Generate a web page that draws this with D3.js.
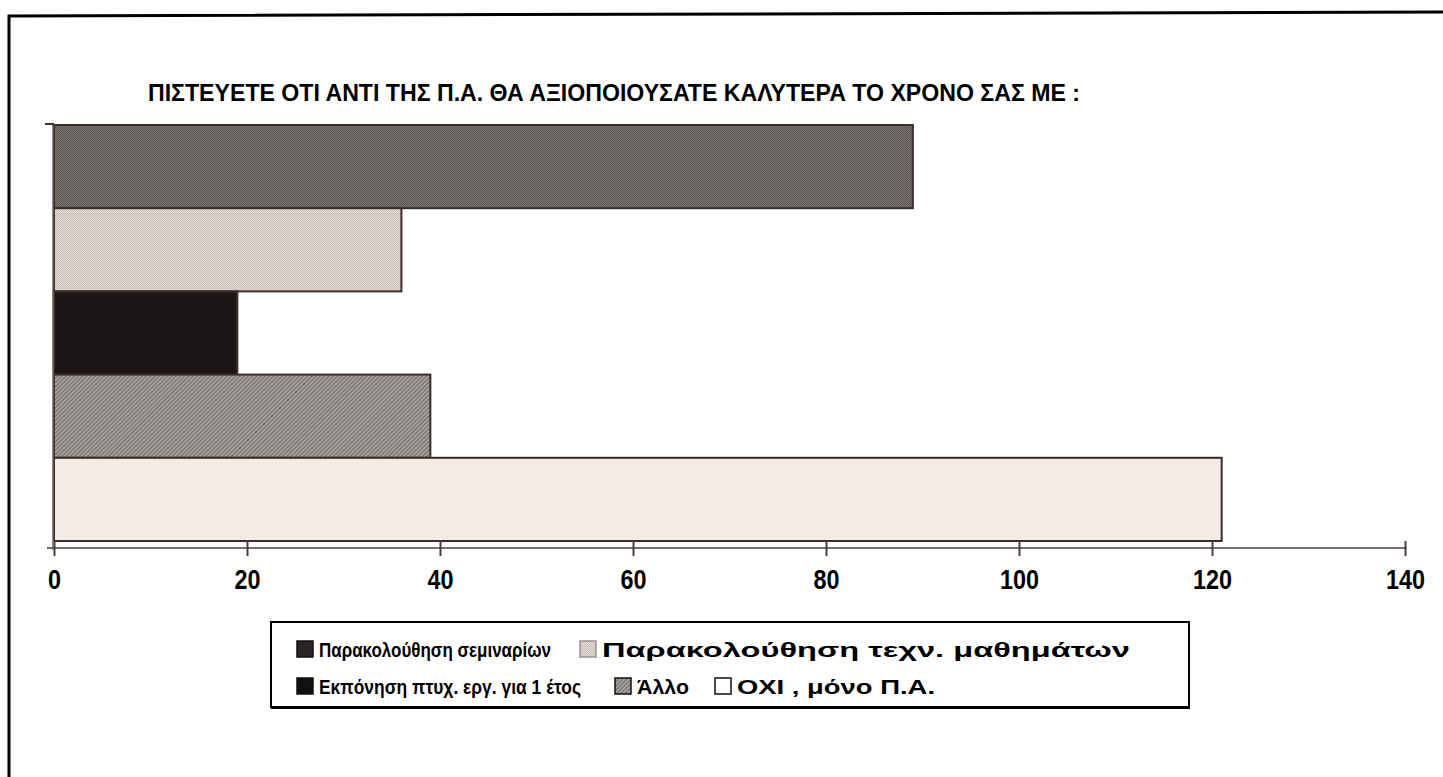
<!DOCTYPE html>
<html>
<head>
<meta charset="utf-8">
<script src="https://cdn.jsdelivr.net/npm/d3@7"></script>
<style>
  body { margin: 0; background: #fff; }
  svg { display: block; }
  .lbl { font-family: "Liberation Sans Narrow", "Arial Narrow", "Liberation Sans", sans-serif; font-weight: bold; fill: #000; }
</style>
</head>
<body>
<script>
// chart data
var categories = ["Παρακολούθηση σεμιναρίων", "Παρακολούθηση τεχν. μαθημάτων", "Εκπόνηση πτυχ. εργ. για 1 έτος", "Άλλο", "ΟΧΙ , μόνο Π.Α."];
var values = [89, 36, 19, 39, 121];
var tickValues = [0, 20, 40, 60, 80, 100, 120, 140];
var title = "ΠΙΣΤΕΥΕΤΕ ΟΤΙ ΑΝΤΙ ΤΗΣ Π.Α. ΘΑ ΑΞΙΟΠΟΙΟΥΣΑΤΕ ΚΑΛΥΤΕΡΑ ΤΟ ΧΡΟΝΟ ΣΑΣ ΜΕ :";

window.onload = setChart();

function setChart(){
    var width = 1443, height = 777;

    var svg = d3.select("body").append("svg")
        .attr("width", width)
        .attr("height", height);

    //fill patterns to imitate the printed textures
    var defs = svg.append("defs");
    function dots(id, base, dot){
        var p = defs.append("pattern").attr("id", id)
            .attr("patternUnits", "userSpaceOnUse").attr("width", 2).attr("height", 2);
        p.append("rect").attr("width", 2).attr("height", 2).attr("fill", base);
        p.append("rect").attr("width", 1).attr("height", 1).attr("fill", dot);
        p.append("rect").attr("x", 1).attr("y", 1).attr("width", 1).attr("height", 1).attr("fill", dot);
    }
    dots("pSem", "#7b7573", "#5a5452");
    dots("pTex", "#e3dbd6", "#c9c0bb");
    var h = defs.append("pattern").attr("id", "pAllo")
        .attr("patternUnits", "userSpaceOnUse").attr("width", 3).attr("height", 3)
        .attr("patternTransform", "rotate(45)");
    h.append("rect").attr("width", 3).attr("height", 3).attr("fill", "#a7a2a0");
    h.append("rect").attr("width", 1).attr("height", 3).attr("fill", "#6c6765");

    var fills = ["url(#pSem)", "url(#pTex)", "#1b1515", "url(#pAllo)", "#f5ebe5"];
    var swatchFills = ["#2a2424", "url(#pTex)", "#111", "url(#pAllo)", "#fff"];

    //outer frame
    svg.append("path")
        .attr("d", "M9," + height + " L9,16 L" + width + ",12")
        .attr("fill", "none").attr("stroke", "#000").attr("stroke-width", 3);

    //title
    svg.append("text")
        .attr("class", "lbl")
        .attr("x", 148).attr("y", 101)
        .attr("font-size", 24)
        .attr("textLength", 932).attr("lengthAdjust", "spacingAndGlyphs")
        .text(title);

    var xScale = d3.scaleLinear().domain([0, 140]).range([54, 1405]);
    var yScale = d3.scaleBand().domain(categories).range([125, 541]).padding(0);

    //bars
    svg.selectAll(".bar")
        .data(values)
        .enter()
        .append("rect")
        .attr("class", "bar")
        .attr("x", xScale(0))
        .attr("y", function(d, i){ return yScale(categories[i]); })
        .attr("width", function(d){ return xScale(d) - xScale(0); })
        .attr("height", yScale.bandwidth())
        .attr("fill", function(d, i){ return fills[i]; })
        .attr("stroke", "#3b2d2a")
        .attr("stroke-width", 2);

    //value axis
    var axisY = 548;
    var axis = svg.append("g")
        .attr("transform", "translate(0," + axisY + ")")
        .call(d3.axisBottom(xScale).tickValues(tickValues).tickSizeOuter(0).tickSizeInner(8).tickPadding(13));
    axis.select(".domain").attr("stroke", "#4a3f3c").attr("stroke-width", 1.5)
        .attr("d", "M47,0H1405");
    axis.selectAll(".tick line").attr("y1", -7).attr("y2", 8).attr("stroke", "#4a3f3c").attr("stroke-width", 2);
    axis.selectAll(".tick text")
        .attr("class", "lbl")
        .attr("font-size", 28)
        .attr("dy", "0.72em")
        .attr("fill", "#000")
        .attr("textLength", function(d){ return String(d).length * 13; })
        .attr("lengthAdjust", "spacingAndGlyphs");

    //category axis line
    svg.append("line")
        .attr("x1", 53).attr("x2", 53).attr("y1", 124).attr("y2", axisY + 2)
        .attr("stroke", "#6b605d").attr("stroke-width", 1.5);
    svg.append("line")
        .attr("x1", 45).attr("x2", 54).attr("y1", 124).attr("y2", 124)
        .attr("stroke", "#3b2d2a").attr("stroke-width", 2);

    //legend
    var legend = svg.append("g");
    legend.append("rect")
        .attr("x", 271).attr("y", 622).attr("width", 918).attr("height", 85)
        .attr("fill", "#fff").attr("stroke", "#000").attr("stroke-width", 2);
    legend.append("line")
        .attr("x1", 271).attr("x2", 1190).attr("y1", 708).attr("y2", 708)
        .attr("stroke", "#000").attr("stroke-width", 2);

    var legendPos = [
        {x: 297, y: 649, w: 232},
        {x: 580, y: 649, w: 528},
        {x: 297, y: 686, w: 262},
        {x: 615, y: 686, w: 52},
        {x: 715, y: 686, w: 198}
    ];
    var items = legend.selectAll(".item")
        .data(categories)
        .enter()
        .append("g")
        .attr("class", "item")
        .attr("transform", function(d, i){ return "translate(" + legendPos[i].x + "," + legendPos[i].y + ")"; });
    items.append("rect")
        .attr("x", 0).attr("y", -8).attr("width", 16).attr("height", 16)
        .attr("fill", function(d, i){ return swatchFills[i]; })
        .attr("stroke", function(d, i){ return i == 1 ? "#9a908c" : "#111"; })
        .attr("stroke-width", 1.5);
    items.append("text")
        .attr("class", "lbl")
        .attr("x", 22).attr("y", 8)
        .attr("font-size", 21)
        .attr("textLength", function(d, i){ return legendPos[i].w; })
        .attr("lengthAdjust", "spacingAndGlyphs")
        .text(function(d){ return d; });
}
</script>
</body>
</html>
